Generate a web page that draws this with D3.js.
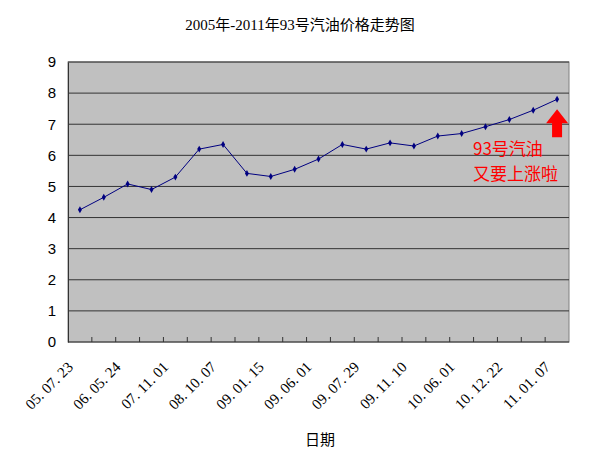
<!DOCTYPE html>
<html><head><meta charset="utf-8">
<script src="https://cdn.jsdelivr.net/npm/d3@7"></script>
<style>body{margin:0;background:#fff}</style>
</head><body><div id="chart"></div>
<script>
const dates = ["05. 07. 23","","06. 05. 24","","07. 11. 01","","08. 10. 07","","09. 01. 15","","09. 06. 01","","09. 07. 29","","09. 11. 10","","10. 06. 01","","10. 12. 22","","11. 01. 07"];
const prices = [4.25,4.65,5.08,4.9,5.3,6.2,6.35,5.42,5.32,5.55,5.88,6.35,6.2,6.4,6.3,6.62,6.7,6.92,7.15,7.45,7.8];
const yTicks = [0,1,2,3,4,5,6,7,8,9];
const noteLines = ["93号汽油", "又要上涨啦"];

const width = 600, height = 453;
const margin = { top: 62, right: 31, bottom: 111, left: 68 };
const svg = d3.select("#chart").append("svg").attr("width", width).attr("height", height)
    .style("font-family", "'Liberation Serif', 'Noto Sans CJK SC', serif");

const idx = d3.range(prices.length);
const x = d3.scaleBand().domain(idx).range([margin.left, width - margin.right]);
const y = d3.scaleLinear().domain([0, 9]).range([height - margin.bottom, margin.top]);

svg.append("rect").attr("x", margin.left).attr("y", margin.top)
    .attr("width", width - margin.left - margin.right).attr("height", height - margin.top - margin.bottom)
    .attr("fill", "#c0c0c0").attr("stroke", "#808080");

svg.append("g").selectAll("line").data(yTicks.slice(1)).join("line")
    .attr("x1", margin.left).attr("x2", width - margin.right)
    .attr("y1", d => y(d)).attr("y2", d => y(d)).attr("stroke", "#333").attr("stroke-width", 1);

const yAxis = svg.append("g").attr("transform", `translate(${margin.left},0)`)
    .call(d3.axisLeft(y).tickValues(yTicks).tickSize(0).tickPadding(12));
yAxis.select(".domain").attr("stroke", "#333");
yAxis.selectAll("text").attr("font-size", 15).attr("fill", "#000");

// category ticks
svg.append("g").selectAll("line").data(idx.slice(1)).join("line")
    .attr("x1", d => x(d)).attr("x2", d => x(d))
    .attr("y1", y(0)).attr("y2", y(0) - 5).attr("stroke", "#333");
svg.append("line").attr("x1", margin.left).attr("x2", width - margin.right)
    .attr("y1", y(0)).attr("y2", y(0)).attr("stroke", "#333");

svg.append("g").selectAll("text").data(idx.filter(i => dates[i])).join("text")
    .attr("transform", i => `translate(${x(i) + x.bandwidth() / 2 - 6},${y(0) + 26}) rotate(-45)`)
    .attr("text-anchor", "end").attr("font-size", 15).text(i => dates[i]);

const line = d3.line().x(i => x(i) + x.bandwidth() / 2).y(i => y(prices[i]));
svg.append("path").datum(idx).attr("d", line).attr("fill", "none").attr("stroke", "#000080").attr("stroke-width", 1);
svg.append("g").selectAll("path").data(idx).join("path")
    .attr("transform", i => `translate(${x(i) + x.bandwidth() / 2},${y(prices[i])})`)
    .attr("d", d3.symbol(d3.symbolDiamond, 14)).attr("fill", "#000080");

svg.append("text").attr("x", width / 2).attr("y", 30).attr("text-anchor", "middle")
    .attr("font-size", 15).text("2005年-2011年93号汽油价格走势图");
svg.append("text").attr("x", 320).attr("y", 445).attr("text-anchor", "middle")
    .attr("font-size", 15).attr("font-family", "'Noto Sans CJK SC'").text("日期");

// annotation
const last = idx[idx.length - 1];
const ax = x(last) + x.bandwidth() / 2;
const ay = y(prices[last]);
svg.append("path").attr("fill", "#ff0000")
    .attr("d", `M${ax},${ay + 10} L${ax + 11},${ay + 24} L${ax + 5},${ay + 24} L${ax + 5},${ay + 38} L${ax - 5},${ay + 38} L${ax - 5},${ay + 24} L${ax - 11},${ay + 24} Z`);
svg.append("g").selectAll("text").data(noteLines).join("text")
    .attr("x", 473).attr("y", (d, i) => 155 + i * 25)
    .attr("fill", "#ff0000").attr("font-size", 17)
    .attr("font-family", "'Noto Sans CJK SC'").text(d => d);
</script></body></html>
